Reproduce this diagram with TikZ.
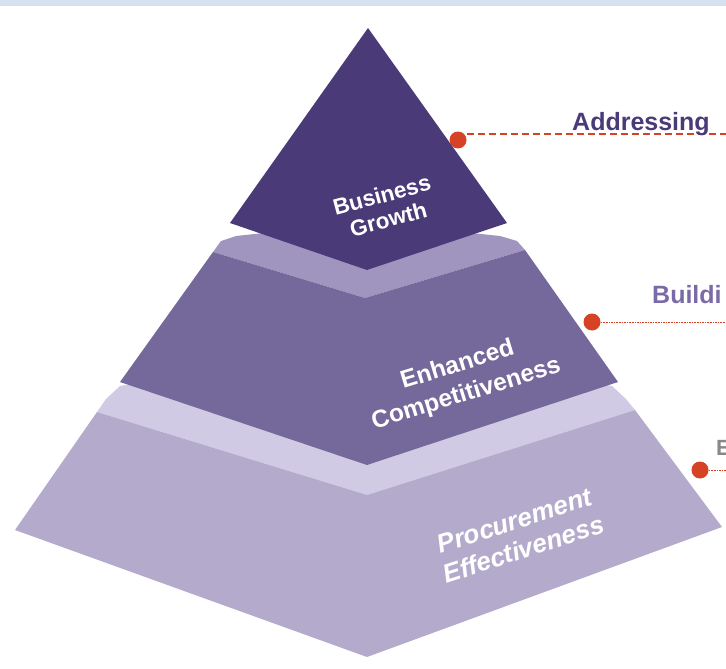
\documentclass[tikz,border=0pt]{standalone}
\usepackage{fontspec}
\setmainfont{Liberation Sans}
\definecolor{barblue}{RGB}{214,225,239}
\definecolor{tricol}{RGB}{74,58,120}
\definecolor{tiertwo}{RGB}{117,104,154}
\definecolor{tiertwotop}{RGB}{159,149,191}
\definecolor{tierthree}{RGB}{180,171,204}
\definecolor{tierthreetop}{RGB}{208,202,229}
\definecolor{dotred}{RGB}{214,66,36}
\definecolor{buildcol}{RGB}{122,106,166}
\definecolor{ecol}{RGB}{136,136,136}
\tikzset{
  dotn/.style={circle, fill=dotred, inner sep=0pt, minimum size=17pt},
  dashline/.style={draw=dotred, line width=2.2pt, dash pattern=on 7pt off 4pt},
  dotline/.style={draw=dotred, line width=0.9pt, dash pattern=on 1.6pt off 1pt},
  tierlabel/.style={text=white, align=center, inner sep=0pt},
  sidelabel/.style={anchor=base west, inner sep=0pt},
}
\begin{document}
\begin{tikzpicture}[x=1pt,y=-1pt]
\useasboundingbox (0,0) rectangle (726,669);
\clip (0,0) rectangle (726,669);
\fill[barblue] (0,0) rectangle (726,6);
% bottom tier
\fill[tierthreetop] (97,412) -- (106,399) -- (120,386) -- (367,340) -- (612,386) -- (626,399) -- (635,410) -- (367,495) -- cycle;
\fill[tierthree] (97,412) -- (367,495) -- (635,410) -- (722,527) -- (367,657) -- (15,530) -- cycle;
% middle tier
\fill[tiertwotop] (213,252) -- (221,241) -- (236,236) -- (367,222) -- (500,236) -- (517,241) -- (525,250) -- (365,298) -- cycle;
\fill[tiertwo] (213,252) -- (365,298) -- (525,250) -- (618,382) -- (367,465) -- (120,382) -- cycle;
% top
\fill[tricol] (368,28) -- (507,223) -- (367,270) -- (230,223) -- cycle;
% tier labels
\node[tierlabel, rotate=15, font=\bfseries\fontsize{22.5}{25}\selectfont] (bg) at (385,207) {Business\\Growth};
\node[tierlabel, rotate=17, font=\bfseries\fontsize{24.5}{30}\selectfont] (ec) at (462,380) {Enhanced\\Competitiveness};
\node[tierlabel, rotate=18, font=\bfseries\itshape\fontsize{26}{30}\selectfont] (pe) at (519,535) {Procurement\\Effectiveness};
% side markers
\node[dotn] (d1) at (458,140) {};
\node[dotn] (d2) at (592,322) {};
\node[dotn] (d3) at (700,470) {};
\coordinate (a1) at (726,134);
\coordinate (a2) at (726,322);
\coordinate (a3) at (726,470);
\draw[dashline] (d1.east |- a1) -- (a1);
\draw[dotline] (d2.east) -- (a2);
\draw[dotline] (d3.east) -- (a3);
\node[sidelabel, text=tricol, font=\bfseries\fontsize{25}{30}\selectfont] (t1) at (572,130) {Addressing};
\node[sidelabel, text=buildcol, font=\bfseries\fontsize{25}{28}\selectfont] (t2) at (652,303) {Buildi};
\node[sidelabel, text=ecol, font=\bfseries\fontsize{22}{26}\selectfont] (t3) at (716,455) {E};
\end{tikzpicture}
\end{document}
